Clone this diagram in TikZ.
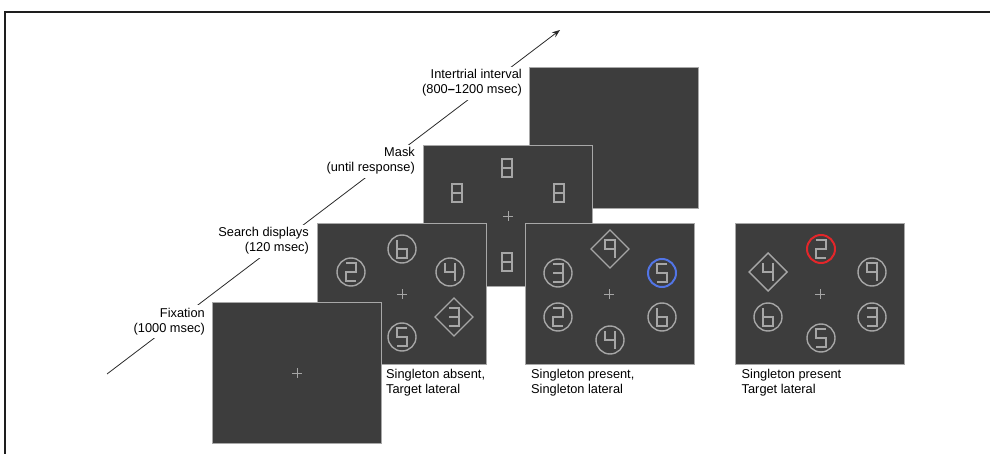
\documentclass[tikz,border=0pt]{standalone}
\usepackage{fontspec}
\setmainfont{Liberation Sans}
\usetikzlibrary{arrows.meta}
\definecolor{panelfill}{HTML}{3D3D3D}
\definecolor{paneledge}{HTML}{A8A8A8}
\definecolor{itemgray}{HTML}{A6A6A6}
\definecolor{ringred}{HTML}{E3262A}
\definecolor{ringblue}{HTML}{5275E6}
\definecolor{framegray}{HTML}{1E1E1E}
\definecolor{arrowgray}{HTML}{2A2A2A}
\tikzset{
  panel/.style={draw=paneledge, line width=1.2pt, fill=panelfill, rectangle, anchor=north west,
    minimum width=169pt, minimum height=141pt, inner sep=0pt},
  seg/.style={draw=itemgray, line width=1.8pt, line cap=butt, line join=miter},
  crossline/.style={draw=itemgray, line width=0.8pt},
  ringline/.style={draw=itemgray, line width=1.4pt},
  lbl/.style={inner sep=1.5pt, fill=white, font=\fontsize{12.8}{15}\selectfont},
  arrowline/.style={draw=arrowgray, line width=0.8pt, -{Stealth[length=8pt,width=6pt]}},
  frameline/.style={draw=framegray, line width=1.7pt},
  pics/fixcross/.style={code={\draw[crossline] (-5,0) -- (5,0) (0,-5) -- (0,5);}},
  pics/ring/.style={code={\draw[ringline] (0,0) circle[radius=14pt];}},
  pics/ringR/.style={code={\draw[draw=ringred, line width=2pt] (0,0) circle[radius=14pt];}},
  pics/ringB/.style={code={\draw[draw=ringblue, line width=2pt] (0,0) circle[radius=14pt];}},
  pics/diam/.style={code={\draw[ringline] (0,-19) -- (19,0) -- (0,19) -- (-19,0) -- cycle;}},
  pics/dtwo/.style={code={\draw[seg] (-5,-9) -- (5,-9) -- (5,0) -- (-5,0) -- (-5,9) -- (5,9);}},
  pics/dthree/.style={code={\draw[seg] (-5,-9) -- (5,-9) -- (5,9) -- (-5,9); \draw[seg] (-5,0) -- (5,0);}},
  pics/dfour/.style={code={\draw[seg] (-5,-9) -- (-5,0) -- (5,0); \draw[seg] (5,-9) -- (5,9);}},
  pics/dfive/.style={code={\draw[seg] (5,-9) -- (-5,-9) -- (-5,0) -- (5,0) -- (5,9) -- (-5,9);}},
  pics/dsix/.style={code={\draw[seg] (-5,-9) -- (-5,9) -- (5,9) -- (5,0) -- (-5,0);}},
  pics/deight/.style={code={\draw[seg] (-5,-9) rectangle (5,9); \draw[seg] (-5,0) -- (5,0);}},
  pics/dnine/.style={code={\draw[seg] (5,0) -- (-5,0) -- (-5,-9) -- (5,-9) -- (5,9);}},
}
\newcommand\stimitem[4]{\path (#1,#2) pic{#3} (#1,#2) pic{#4};}
\begin{document}
\begin{tikzpicture}[x=1pt,y=-1pt]
\useasboundingbox (0,0) rectangle (990,454);
% outer frame
\coordinate (fbl) at (5.2,454);
\coordinate (ftl) at (5.2,11.8);
\coordinate (ftr) at (990,11.8);
\draw[frameline] (fbl) -- (ftl) -- (ftr);
% time arrow
\coordinate (tailpt) at (107,374);
\coordinate (headpt) at (560,30);
\draw[arrowline] (tailpt) -- (headpt);
% labels along the arrow
\node[lbl, anchor=base east] (lblfix) at (206.5,317) {\begin{tabular}[t]{@{}r@{}}Fixation\\(1000 msec)\end{tabular}};
\node[lbl, anchor=base east] (lblsearch) at (310.5,237) {\begin{tabular}[t]{@{}r@{}}Search displays\\(120 msec)\end{tabular}};
\node[lbl, anchor=base east] (lblmask) at (416.5,157) {\begin{tabular}[t]{@{}r@{}}Mask\\(until response)\end{tabular}};
\node[lbl, anchor=base east] (lbliti) at (523.5,79) {\begin{tabular}[t]{@{}r@{}}Intertrial interval\\(800{\bfseries –}1200 msec)\end{tabular}};
% ITI panel
\node[panel] (iti) at (529,67) {};
% mask panel
\node[panel] (mask) at (423,145) {};
\path (508,216) pic{fixcross};
\path (507,168) pic{deight};
\path (457,193) pic{deight};
\path (559,193) pic{deight};
\path (507,262) pic{deight};
% search display: singleton absent
\node[panel] (absent) at (317,223) {};
\path (402,294) pic{fixcross};
\stimitem{402}{249}{ring}{dsix}
\stimitem{351}{272}{ring}{dtwo}
\stimitem{450}{272}{ring}{dfour}
\stimitem{454}{317}{diam}{dthree}
\stimitem{402}{337}{ring}{dfive}
% fixation panel
\node[panel] (fix) at (212,302) {};
\path (297,373) pic{fixcross};
% singleton present, singleton lateral
\node[panel] (lateral) at (525,223) {};
\path (609,294) pic{fixcross};
\stimitem{610}{249}{diam}{dnine}
\stimitem{558}{273}{ring}{dthree}
\stimitem{662}{273}{ringB}{dfive}
\stimitem{558}{317}{ring}{dtwo}
\stimitem{662}{317}{ring}{dsix}
\stimitem{610}{340}{ring}{dfour}
% singleton present, target lateral
\node[panel] (third) at (735,223) {};
\path (820,294) pic{fixcross};
\stimitem{821}{249}{ringR}{dtwo}
\stimitem{768}{272}{diam}{dfour}
\stimitem{872}{272}{ring}{dnine}
\stimitem{768}{317}{ring}{dsix}
\stimitem{872}{317}{ring}{dthree}
\stimitem{821}{338}{ring}{dfive}
% captions
\node[lbl, anchor=base west] (capa) at (384.5,378.5) {\begin{tabular}[t]{@{}l@{}}Singleton absent,\\Target lateral\end{tabular}};
\node[lbl, anchor=base west] (capb) at (529.5,378.5) {\begin{tabular}[t]{@{}l@{}}Singleton present,\\Singleton lateral\end{tabular}};
\node[lbl, anchor=base west] (capc) at (740,378.5) {\begin{tabular}[t]{@{}l@{}}Singleton present\\Target lateral\end{tabular}};
\end{tikzpicture}
\end{document}
